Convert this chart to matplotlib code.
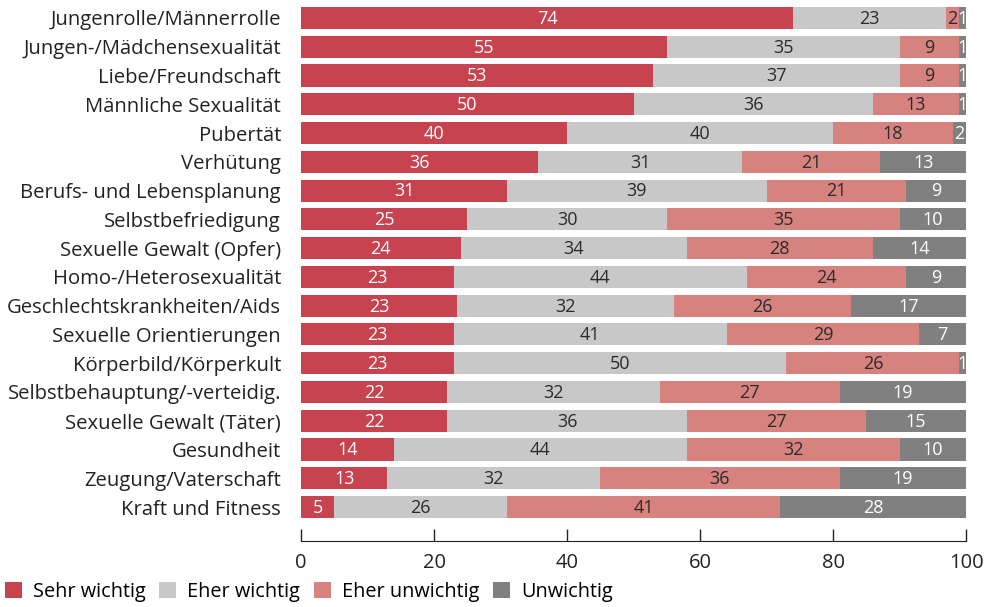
import matplotlib
matplotlib.use("Agg")
import matplotlib.pyplot as plt
from matplotlib.patches import Patch
import numpy as np

plt.rcParams['font.family'] = ['Open Sans', 'DejaVu Sans']

categories = [
    "Jungenrolle/Männerrolle", "Jungen-/Mädchensexualität", "Liebe/Freundschaft",
    "Männliche Sexualität", "Pubertät", "Verhütung", "Berufs- und Lebensplanung",
    "Selbstbefriedigung", "Sexuelle Gewalt (Opfer)", "Homo-/Heterosexualität",
    "Geschlechtskrankheiten/Aids", "Sexuelle Orientierungen", "Körperbild/Körperkult",
    "Selbstbehauptung/-verteidig.", "Sexuelle Gewalt (Täter)", "Gesundheit",
    "Zeugung/Vaterschaft", "Kraft und Fitness",
]
sehr_wichtig = [74, 55, 53, 50, 40, 36, 31, 25, 24, 23, 23, 23, 23, 22, 22, 14, 13, 5]
eher_wichtig = [23, 35, 37, 36, 40, 31, 39, 30, 34, 44, 32, 41, 50, 32, 36, 44, 32, 26]
eher_unwichtig = [2, 9, 9, 13, 18, 21, 21, 35, 28, 24, 26, 29, 26, 27, 27, 32, 36, 41]
unwichtig = [1, 1, 1, 1, 2, 13, 9, 10, 14, 9, 17, 7, 1, 19, 15, 10, 19, 28]

series_names = ["Sehr wichtig", "Eher wichtig", "Eher unwichtig", "Unwichtig"]
colors = ["#C6434F", "#C8C8C9", "#D6827F", "#808081"]
text_colors = ["white", "#2b2b2b", "#2b2b2b", "white"]

fig = plt.figure(figsize=(9.88, 6.07), dpi=100)
W, H = 988, 607
left, right = 301, 966
top, bottom = 3.6, 521.4
ax = fig.add_axes([left / W, 1 - bottom / H, (right - left) / W, (bottom - top) / H])

raw = np.array([sehr_wichtig, eher_wichtig, eher_unwichtig, unwichtig], dtype=float)
# 100 % stacked: each row is scaled to its own total
shares = raw / raw.sum(axis=0) * 100

y = np.arange(len(categories))
base = np.zeros(len(categories))
for vals, share, col, tcol, name in zip(raw, shares, colors, text_colors, series_names):
    ax.barh(y, share, left=base, height=0.77, color=col, label=name)
    for yi, (b, v, s) in enumerate(zip(base, vals, share)):
        cx = b + s / 2
        ax.text(cx, yi + 0.03, f"{int(v)}", ha="center", va="center",
                color=tcol, fontsize=13)
    base += share

ax.set_xlim(0, 100)
ax.set_ylim(len(categories) - 0.5, -0.5)
ax.set_yticks(y)
ax.set_yticklabels(categories, fontsize=14.6, color="#222222")
ax.tick_params(axis="y", length=0, pad=14.4)
ax.set_xticks([0, 20, 40, 60, 80, 100])
ax.tick_params(axis="x", direction="in", length=9, width=1, labelsize=14.5,
               pad=8, colors="#222222")
for s in ["top", "right", "left"]:
    ax.spines[s].set_visible(False)
ax.spines["bottom"].set_position(("outward", 14.4))
ax.spines["bottom"].set_color("#222222")

handles = [Patch(facecolor=c, edgecolor="none") for c in colors]
fig.legend(handles, series_names, loc="center left",
           bbox_to_anchor=(3 / W, 1 - 592 / H),
           ncol=4, frameon=False, fontsize=14.3, handlelength=0.85, handleheight=0.85,
           handletextpad=0.55, columnspacing=0.7, borderaxespad=0, borderpad=0.1)

fig.savefig("out.png", dpi=100)
